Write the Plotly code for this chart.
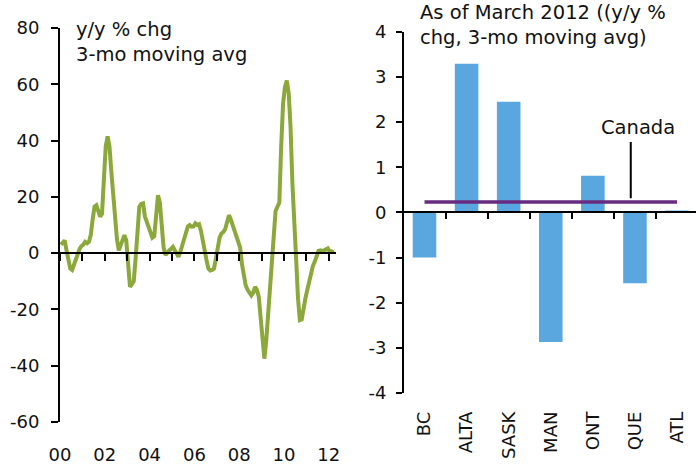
import plotly.graph_objects as go

# ---- data -------------------------------------------------------------
# Monthly y/y % change (3-month moving average), Jan 2000 .. Mar 2012
start_year = 2000
monthly_chg = [
    3, 4, 4.5, 1, -3, -5.5, -6, -4, -2, 0, 1.5, 2.5,                 # 2000
    3, 4, 3.5, 4, 6.5, 12, 16.5, 17, 15, 13, 14, 30,                 # 2001
    38, 41.5, 38, 29, 20, 12, 5, 1, 3, 5, 6.4, 4.5,                  # 2002
    -3, -12, -11, -10, -2, 8, 16.5, 17.5, 17.7, 13, 11, 9.5,         # 2003
    7, 5.5, 6, 14, 20.6, 18, 10, 2, -0.7, 0.5, 1, 1.5,               # 2004
    2.2, 1, 0, -1.3, 0.5, 3, 4.6, 7, 9.5, 10, 9.4, 9.5,              # 2005
    10.6, 10, 10.3, 8, 4, 1, -2.5, -5.5, -6.2, -6, -5.5, -2,         # 2006
    2.5, 5.5, 7, 7.5, 8.5, 11, 13.5, 12, 10, 8, 6, 5,                # 2007
    2, -4, -8.4, -11.5, -13, -14, -15, -14, -12, -13, -15.5, -23,    # 2008
    -32, -37.5, -31, -22, -12, -2, 8, 15, 16.5, 18, 38, 53,          # 2009
    59, 61.3, 57, 45, 25, 14, -2, -16, -23.8, -23.5, -19, -16,       # 2010
    -13, -10, -6, -4.5, -3, -1, 0.8, 1, 0.8, 1, 1.2, 1.7,            # 2011
    0.5, 0.6, 0.1,                                                   # 2012
]
year_ticks = [2000, 2002, 2004, 2006, 2008, 2010, 2012]
year_tick_text = ["00", "02", "04", "06", "08", "10", "12"]
left_y_ticks = [-60, -40, -20, 0, 20, 40, 60, 80]

# Provincial snapshot, March 2012
provinces = ["BC", "ALTA", "SASK", "MAN", "ONT", "QUE", "ATL"]
province_chg = [-1.0, 3.29, 2.45, -2.87, 0.81, -1.57, 0.04]
canada_chg = 0.23
right_y_ticks = [-4, -3, -2, -1, 0, 1, 2, 3, 4]

# ---- styling ----------------------------------------------------------
W, H = 696, 464
FONT = "DejaVu Sans"
GREEN = "#8BA83B"
BLUE = "#5AA6DE"
PURPLE = "#672C80"


def px_x(p):
    return p / W


def px_y(p):
    return 1 - p / H


def dash_label(v):
    return f"{v:g}".replace("\u2212", "-")


left_dom_x = [px_x(60), px_x(335.5)]
left_dom_y = [px_y(422), px_y(28)]
right_dom_x = [px_x(404), 1.0]
right_dom_y = [px_y(393), px_y(31.7)]

left_range_y = [-60, 80]
right_range_y = [-4, 4]
left_range_x = [2000, 2012.3]
right_range_x = [-0.487, 6.45]


def zero_position(dom, rng):
    return dom[0] + (0 - rng[0]) / (rng[1] - rng[0]) * (dom[1] - dom[0])


x_months = [start_year + (i + 0.5) / 12 for i in range(len(monthly_chg))]

fig = go.Figure()

# left: time series
fig.add_trace(go.Scatter(
    x=x_months, y=monthly_chg, mode="lines",
    line=dict(color=GREEN, width=4), xaxis="x", yaxis="y",
    showlegend=False, hoverinfo="skip",
))
# carrier trace for the zero-line axis on the left panel
fig.add_trace(go.Scatter(x=[], y=[], xaxis="x3", yaxis="y",
                         showlegend=False, hoverinfo="skip"))

# right: provincial bars + national average line
fig.add_trace(go.Bar(
    x=provinces, y=province_chg, marker=dict(color=BLUE, line=dict(width=0)),
    width=0.56, xaxis="x2", yaxis="y2", showlegend=False, hoverinfo="skip",
))
fig.add_trace(go.Scatter(
    x=provinces, y=[canada_chg] * len(provinces), mode="lines",
    line=dict(color=PURPLE, width=3.5), xaxis="x2", yaxis="y2",
    showlegend=False, hoverinfo="skip",
))
fig.add_trace(go.Scatter(x=[], y=[], xaxis="x4", yaxis="y2",
                         showlegend=False, hoverinfo="skip"))

axis_font = dict(family=FONT, size=18, color="#111111")
CAPTION = 19.5

fig.update_layout(
    width=W, height=H, autosize=False,
    margin=dict(l=0, r=0, t=0, b=0, autoexpand=False),
    paper_bgcolor="white", plot_bgcolor="white",
    font=dict(family=FONT, size=18, color="#111111"),
    xaxis=dict(
        domain=left_dom_x, range=left_range_x, anchor="y", automargin=False,
        showgrid=False, zeroline=False, showline=False,
        tickmode="array", tickvals=year_ticks, ticktext=year_tick_text,
        ticks="", ticklabelstandoff=20, tickfont=axis_font,
    ),
    xaxis3=dict(
        overlaying="x", anchor="free", automargin=False,
        position=zero_position(left_dom_y, left_range_y),
        range=left_range_x, showgrid=False, zeroline=False,
        showline=True, linecolor="black", linewidth=2,
        ticks="outside", ticklen=7, tickwidth=2, tickcolor="black",
        tickmode="linear", tick0=2000, dtick=1, showticklabels=False,
    ),
    yaxis=dict(
        domain=left_dom_y, range=left_range_y, anchor="x", automargin=False,
        showgrid=False, zeroline=False,
        showline=True, linecolor="black", linewidth=2,
        ticks="outside", ticklen=7, tickwidth=2, tickcolor="black",
        tickmode="array", tickvals=left_y_ticks,
        ticktext=[dash_label(v) for v in left_y_ticks],
        ticklabelstandoff=8, tickfont=axis_font,
    ),
    xaxis2=dict(
        domain=right_dom_x, range=right_range_x, anchor="y2", automargin=False,
        type="category", categoryorder="array", categoryarray=provinces,
        showgrid=False, zeroline=False, showline=False,
        ticks="", tickangle=-90, ticklabelstandoff=14, tickfont=axis_font,
    ),
    xaxis4=dict(
        overlaying="x2", anchor="free", automargin=False,
        position=zero_position(right_dom_y, right_range_y),
        range=right_range_x, showgrid=False, zeroline=False,
        showline=True, linecolor="black", linewidth=2,
        ticks="outside", ticklen=6, tickwidth=2, tickcolor="black",
        tickmode="array", tickvals=[0.5, 1.5, 2.5, 3.5, 4.5, 5.5],
        showticklabels=False,
    ),
    yaxis2=dict(
        domain=right_dom_y, range=right_range_y, anchor="x2", automargin=False,
        showgrid=False, zeroline=False,
        showline=True, linecolor="black", linewidth=2,
        ticks="outside", ticklen=6, tickwidth=2, tickcolor="black",
        tickmode="array", tickvals=right_y_ticks,
        ticktext=[dash_label(v) for v in right_y_ticks],
        ticklabelstandoff=6, tickfont=axis_font,
    ),
)

# panel captions
fig.add_annotation(
    xref="paper", yref="paper", x=px_x(74), y=px_y(16),
    xanchor="left", yanchor="top", align="left", showarrow=False,
    text="y/y % chg<br>3-mo moving avg", font=dict(family=FONT, size=CAPTION),
)
fig.add_annotation(
    xref="paper", yref="paper", x=px_x(418), y=px_y(-1),
    xanchor="left", yanchor="top", align="left", showarrow=False,
    text="As of March 2012 ((y/y %<br>chg, 3-mo moving avg)",
    font=dict(family=FONT, size=CAPTION),
)

# national average label with leader line
fig.add_annotation(
    xref="x2", yref="y2", x=5.07, y=1.87, showarrow=False,
    text="Canada", font=dict(family=FONT, size=CAPTION),
)
fig.add_shape(
    type="line", xref="x2", yref="y2", x0=4.9, x1=4.9, y0=1.56, y1=0.31,
    line=dict(color="black", width=2),
)

fig.write_html("out.html")
